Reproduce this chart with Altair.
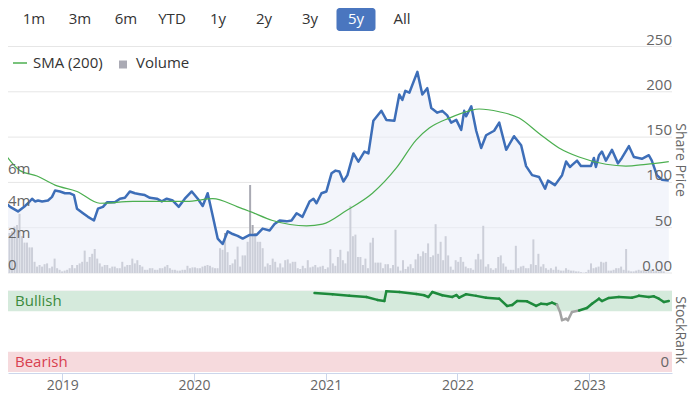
import altair as alt
import pandas as pd

W, H = 664, 365
X_DOMAIN = [2018.626, 2023.591]
FONT = "Open Sans"

# ---------------- data ----------------
buttons = ["1m", "3m", "6m", "YTD", "1y", "2y", "3y", "5y", "All"]
active_button = "5y"

legend_labels = ["SMA (200)", "Volume"]
axis_titles = ["Share Price", "StockRank"]

# share price (decimal year, price)
price_t = [2018.597, 2018.642, 2018.701, 2018.754, 2018.776, 2018.806, 2018.828, 2018.851, 2018.881, 2018.925,
           2018.955, 2018.978, 2019.015, 2019.052, 2019.090, 2019.119, 2019.142, 2019.187, 2019.224, 2019.269,
           2019.299, 2019.336, 2019.366, 2019.425, 2019.463, 2019.500, 2019.537, 2019.575, 2019.612, 2019.649,
           2019.687, 2019.739, 2019.776, 2019.813, 2019.858, 2019.903, 2019.948, 2020.000, 2020.045, 2020.082,
           2020.119, 2020.157, 2020.194, 2020.231, 2020.269, 2020.306, 2020.343, 2020.381, 2020.433, 2020.485,
           2020.530, 2020.582, 2020.619, 2020.657, 2020.709, 2020.746, 2020.784, 2020.828, 2020.881, 2020.910,
           2020.933, 2020.970, 2021.007, 2021.045, 2021.075, 2021.104, 2021.134, 2021.164, 2021.209, 2021.246,
           2021.291, 2021.321, 2021.358, 2021.418, 2021.455, 2021.515, 2021.552, 2021.575, 2021.597, 2021.627,
           2021.687, 2021.724, 2021.761, 2021.791, 2021.836, 2021.873, 2021.910, 2021.940, 2021.978, 2022.015,
           2022.037, 2022.052, 2022.090, 2022.127, 2022.164, 2022.201, 2022.224, 2022.261, 2022.299, 2022.351,
           2022.410, 2022.463, 2022.500, 2022.545, 2022.597, 2022.642, 2022.664, 2022.716, 2022.769, 2022.799,
           2022.828, 2022.843, 2022.881, 2022.910, 2022.948, 2022.985, 2023.007, 2023.022, 2023.045, 2023.067,
           2023.097, 2023.142, 2023.187, 2023.216, 2023.269, 2023.306, 2023.366, 2023.418, 2023.440, 2023.478,
           2023.515, 2023.567]
price_v = [79, 73, 68, 74, 77, 82, 79, 80, 79, 80, 84, 91,
           90, 88, 88, 86, 71, 66, 62, 58, 71, 73, 78, 78,
           82, 83, 90, 88, 87, 86, 83, 82, 79, 82, 80, 73,
           82, 90, 82, 74, 88, 63, 38, 32, 46, 43, 41, 38,
           42, 42, 49, 47, 54, 58, 57, 58, 66, 62, 79, 82,
           77, 88, 90, 110, 113, 112, 101, 108, 132, 123, 134, 132,
           168, 179, 169, 168, 197, 191, 201, 199, 222, 197, 204, 182,
           177, 179, 174, 166, 169, 158, 179, 173, 184, 157, 138, 152,
           154, 157, 166, 136, 151, 141, 118, 108, 106, 93, 102, 97,
           108, 123, 117, 119, 124, 118, 118, 118, 127, 117, 130, 134,
           124, 136, 121, 127, 140, 128, 126, 130, 124, 108, 103, 102]

# 200-day simple moving average
sma_t = [2018.590, 2018.716, 2018.843, 2018.978, 2019.142, 2019.313, 2019.560, 2019.813, 2019.963, 2020.157,
         2020.343, 2020.433, 2020.604, 2020.858, 2020.978, 2021.157, 2021.351, 2021.530, 2021.679, 2021.776,
         2021.925, 2022.075, 2022.149, 2022.299, 2022.448, 2022.597, 2022.746, 2022.896, 2023.097, 2023.246,
         2023.396, 2023.567]
sma_v = [134, 113, 107, 97, 90, 77, 79, 79, 79, 82,
         73, 68, 58, 52, 54, 69, 88, 116, 147, 160,
         171, 179, 181, 178, 171, 154, 138, 128, 120, 118,
         120, 123]

# weekly volume, millions of shares
vol_start = 2018.5993
vol_step = 0.01903
vol_m = [2.5, 2.6, 2.9, 3.0, 3.7, 2.3, 1.9, 1.9, 1.6, 1.6,
         0.7, 0.4, 0.5, 0.4, 0.55, 0.6, 0.3, 0.4, 0.9, 0.3,
         0.2, 0.1, 0.15, 0.2, 0.3, 0.5, 0.3, 0.5, 0.6, 0.7,
         1.4, 0.7, 1.0, 1.2, 1.5, 0.9, 0.6, 0.4, 0.5, 0.5,
         0.3, 0.4, 0.4, 0.3, 0.3, 0.7, 0.4, 0.5, 0.5, 0.9,
         0.6, 0.8, 0.5, 0.4, 0.2, 0.2, 0.3, 0.3, 0.2, 0.2,
         0.3, 0.3, 0.4, 0.5, 0.3, 0.2, 0.2, 0.15, 0.15, 0.2,
         0.2, 0.45, 0.3, 0.35, 0.35, 0.3, 0.3, 0.4, 0.45, 0.5,
         0.45, 0.35, 0.3, 0.3, 1.55, 1.45, 2.5, 1.3, 0.5, 0.6,
         0.85, 1.65, 0.4, 1.1, 1.1, 1.95, 5.5, 3.0, 2.5, 1.95,
         1.95, 1.55, 0.4, 0.6, 0.5, 0.9, 0.7, 0.35, 0.6, 0.35,
         0.8, 0.85, 0.6, 0.7, 0.7, 0.3, 0.25, 0.45, 0.3, 0.8,
         0.35, 0.4, 0.5, 0.35, 0.4, 0.45, 0.25, 0.35, 1.5, 0.6,
         0.45, 1.0, 1.45, 0.8, 0.6, 1.35, 4.2, 2.3, 2.4, 1.0,
         1.0, 0.5, 0.9, 0.3, 1.9, 2.2, 0.65, 0.65, 0.65, 0.3,
         0.55, 0.55, 0.3, 0.5, 2.7, 0.4, 0.15, 0.8, 0.25, 0.4,
         0.55, 0.3, 0.85, 1.2, 1.05, 1.35, 1.25, 1.85, 1.0, 1.1,
         3.05, 1.2, 1.95, 0.8, 2.3, 1.1, 0.4, 0.2, 0.8, 0.7,
         1.0, 0.7, 0.4, 0.3, 0.3, 0.2, 0.85, 1.2, 0.85, 2.95,
         0.4, 0.55, 0.3, 0.2, 0.3, 1.0, 1.1, 0.6, 0.4, 0.2,
         0.2, 0.2, 1.7, 0.3, 0.4, 0.45, 0.3, 0.3, 0.55, 2.1,
         0.5, 1.2, 0.4, 0.55, 0.3, 0.2, 0.3, 0.2, 0.4, 0.2,
         0.15, 0.15, 0.3, 0.2, 0.15, 0.15, 0.1, 0.1, 0.05, 0.02,
         0.05, 0.2, 0.6, 0.3, 0.35, 0.4, 0.7, 0.65, 0.7, 0.15,
         0.15, 0.2, 0.3, 0.3, 0.4, 0.2, 1.5, 0.15, 0.1, 0.1,
         0.15, 0.2, 0.15, 0.2, 0.1, 0.15, 0.2, 0.1, 0.15, 0.1,
         0.15, 0.1]

# StockRank (0-100)
rank_t = [2020.918, 2021.052, 2021.179, 2021.306, 2021.388, 2021.440, 2021.455, 2021.552, 2021.679, 2021.739,
          2021.769, 2021.799, 2021.873, 2021.948, 2021.978, 2022.000, 2022.052, 2022.127, 2022.201, 2022.299,
          2022.358, 2022.396, 2022.433, 2022.507, 2022.575, 2022.612, 2022.657, 2022.694, 2022.731, 2022.754,
          2022.769, 2022.799, 2022.813, 2022.843, 2022.896, 2022.955, 2022.993, 2023.045, 2023.067, 2023.119,
          2023.194, 2023.291, 2023.343, 2023.418, 2023.455, 2023.493, 2023.530, 2023.567]
rank_v = [97.5, 96, 94, 92.6, 89, 87.6, 99.6, 98.8, 96.3, 94.7,
          92.6, 98.8, 94.7, 92.6, 95, 91.7, 96, 94, 91.7, 90.5,
          81.5, 82.7, 87.6, 87.3, 81.5, 84.3, 83.6, 85.6, 83, 74,
          64, 65.8, 64, 74, 76, 79, 84.3, 90.5, 87.6, 91.4,
          92.6, 91.7, 94, 92.6, 93.4, 90.5, 86.4, 87.6]
bullish_from = 75

band_label = ["Bullish", "Bearish"]
band_lo = [75, 0]
band_hi = [100, 25]

price_ticks = [0, 50, 100, 150, 200, 250]
price_tick_labels = ["0.00", "50", "100", "150", "200", "250"]
vol_ticks = [0, 2, 4, 6]
vol_tick_labels = ["0", "2m", "4m", "6m"]
year_ticks = [2019, 2020, 2021, 2022, 2023]
rank_ticks = [0]
rank_tick_labels = ["0"]

# ---------------- styles ----------------
BLUE = "#3d6eb8"
GREEN = "#4caf50"
RANK_GREEN = "#1e8a3c"
RANK_GRAY = "#a3a3a3"
GRID = "#e6e6e6"
LABEL = "#666666"
BTN_BLUE = "#4a76bf"
band_fill = ["#d5eadc", "#f6dadd"]
band_text_color = ["#3c8a3c", "#d8404f"]

# ---------------- frames ----------------
price_df = pd.DataFrame({"t": price_t, "v": price_v})
sma_df = pd.DataFrame({"t": sma_t, "v": sma_v})
vol_df = pd.DataFrame({"t": [vol_start + i * vol_step for i in range(len(vol_m))], "v": vol_m})

seg_rows = []
for i in range(len(rank_t) - 1):
    z = "neutral" if (rank_v[i] < bullish_from or rank_v[i + 1] < bullish_from) else "bull"
    seg_rows.append({"t": rank_t[i], "v": rank_v[i], "seg": i, "z": z})
    seg_rows.append({"t": rank_t[i + 1], "v": rank_v[i + 1], "seg": i, "z": z})
seg_df = pd.DataFrame(seg_rows)

band_df = pd.DataFrame({"lo": band_lo, "hi": band_hi, "fill": band_fill,
                        "label": band_label, "tc": band_text_color})
btn_df = pd.DataFrame({"b": buttons,
                       "fill": [BTN_BLUE if b == active_button else "transparent" for b in buttons],
                       "tc": ["#ffffff" if b == active_button else "#333333" for b in buttons]})

# ---------------- scales ----------------
xs = alt.Scale(domain=X_DOMAIN, range=[0, W], nice=False, zero=False)
ps = alt.Scale(domain=[0, 250], range=[265, 38.5], nice=False)
vs = alt.Scale(domain=[0, 14], range=[265, 41], nice=False)
rs = alt.Scale(domain=[0, 100], range=[364, 283], nice=False)
bx = alt.Scale(type="band", domain=buttons, range=[6.5, 413.5], paddingInner=0.152, paddingOuter=0)


def XT():
    return alt.X("t:Q", scale=xs, axis=None)


grid = alt.Chart(pd.DataFrame({"v": price_ticks})).mark_rule(color=GRID, strokeWidth=1).encode(
    y=alt.Y("v:Q", scale=ps, axis=None), x=alt.value(0), x2=alt.value(W))

rank_grid = alt.Chart(pd.DataFrame({"v": [100]})).mark_rule(color=GRID, strokeWidth=1).encode(
    y=alt.Y("v:Q", scale=rs, axis=None), x=alt.value(0), x2=alt.value(W))

x_axis = alt.Axis(values=year_ticks, format="d", labelFont=FONT, labelFontSize=14, labelColor=LABEL,
                  tickColor="#ccd6eb", tickSize=8, domainColor="#ccd6eb", grid=False, title=None,
                  labelPadding=-3, labelFlush=False)

vol = alt.Chart(vol_df).mark_bar(size=2, color="#a9aab3", clip=True).encode(
    x=alt.X("t:Q", scale=xs, axis=x_axis), y=alt.Y("v:Q", scale=vs, axis=None))

area = alt.Chart(price_df).mark_area(color="#e9edf7", opacity=0.55, clip=True).encode(
    x=XT(), y=alt.Y("v:Q", scale=ps, axis=None))

price_line = alt.Chart(price_df).mark_line(color=BLUE, strokeWidth=2.5, strokeJoin="round", clip=True).encode(
    x=XT(), y=alt.Y("v:Q", scale=ps, axis=None))

sma_line = alt.Chart(sma_df).mark_line(color=GREEN, strokeWidth=1.2, interpolate="monotone", clip=True).encode(
    x=XT(), y=alt.Y("v:Q", scale=ps, axis=None))

bands = alt.Chart(band_df).mark_rect().encode(
    y=alt.Y("lo:Q", scale=rs, axis=None), y2="hi:Q", x=alt.value(0), x2=alt.value(W),
    color=alt.Color("fill:N", scale=None))

band_text = alt.Chart(band_df).transform_calculate(mid="(datum.lo + datum.hi) / 2").mark_text(
    align="left", baseline="middle", font=FONT, fontSize=15).encode(
    y=alt.Y("mid:Q", scale=rs, axis=None), x=alt.value(7), text="label:N",
    color=alt.Color("tc:N", scale=None))

rank_line = alt.Chart(seg_df).mark_line(strokeWidth=2.5, strokeCap="round", strokeJoin="round", clip=True).encode(
    x=XT(), y=alt.Y("v:Q", scale=rs, axis=None), detail="seg:N",
    color=alt.Color("z:N", scale=alt.Scale(domain=["bull", "neutral"], range=[RANK_GREEN, RANK_GRAY]), legend=None))

price_labels = alt.Chart(pd.DataFrame({"v": price_ticks, "label": price_tick_labels})).mark_text(
    align="right", baseline="middle", dy=-7, font=FONT, fontSize=15, color=LABEL).encode(
    y=alt.Y("v:Q", scale=ps, axis=None), x=alt.value(W), text="label:N")

vol_labels = alt.Chart(pd.DataFrame({"v": vol_ticks, "label": vol_tick_labels})).mark_text(
    align="left", baseline="middle", dy=-8, font=FONT, fontSize=15, color=LABEL).encode(
    y=alt.Y("v:Q", scale=vs, axis=None), x=alt.value(0), text="label:N")

rank_labels = alt.Chart(pd.DataFrame({"v": rank_ticks, "label": rank_tick_labels})).mark_text(
    align="right", baseline="middle", dy=-10, font=FONT, fontSize=15, color=LABEL).encode(
    y=alt.Y("v:Q", scale=rs, axis=None), x=alt.value(W - 3), text="label:N")

title_price = alt.Chart(pd.DataFrame({"label": [axis_titles[0]]})).mark_text(
    angle=90, align="center", baseline="middle", font=FONT, fontSize=14, color=LABEL).encode(
    x=alt.value(672), y=alt.value(152), text="label:N")

title_rank = alt.Chart(pd.DataFrame({"label": [axis_titles[1]]})).mark_text(
    angle=90, align="center", baseline="middle", font=FONT, fontSize=14, color=LABEL).encode(
    x=alt.value(672), y=alt.value(322), text="label:N")

leg_line = alt.Chart(pd.DataFrame({"a": [0]})).mark_rule(color=GREEN, strokeWidth=1.5).encode(
    x=alt.value(5), x2=alt.value(19), y=alt.value(55))
leg_text1 = alt.Chart(pd.DataFrame({"label": [legend_labels[0]]})).mark_text(
    align="left", baseline="middle", font=FONT, fontSize=15, color="#333333").encode(
    x=alt.value(25), y=alt.value(55), text="label:N")
leg_sq = alt.Chart(pd.DataFrame({"a": [0]})).mark_square(size=64, color="#aaaab4", opacity=1).encode(
    x=alt.value(115), y=alt.value(56.5))
leg_text2 = alt.Chart(pd.DataFrame({"label": [legend_labels[1]]})).mark_text(
    align="left", baseline="middle", font=FONT, fontSize=15, color="#333333").encode(
    x=alt.value(128), y=alt.value(55), text="label:N")

btn_rect = alt.Chart(btn_df).mark_rect(cornerRadius=3).encode(
    x=alt.X("b:N", scale=bx, axis=None), y=alt.value(0), y2=alt.value(23),
    color=alt.Color("fill:N", scale=None))
btn_text = alt.Chart(btn_df).mark_text(baseline="middle", align="center", font=FONT, fontSize=15).encode(
    x=alt.X("b:N", scale=bx, axis=None), y=alt.value(10.5), text="b:N",
    color=alt.Color("tc:N", scale=None))

chart = alt.layer(
    grid, rank_grid, vol, area, price_line, sma_line, bands, band_text, rank_line,
    price_labels, vol_labels, rank_labels, title_price, title_rank,
    leg_line, leg_text1, leg_sq, leg_text2, btn_rect, btn_text
).resolve_scale(
    x="independent", y="independent", color="independent"
).properties(
    width=W, height=H,
    padding={"left": 0, "top": 0, "right": 18, "bottom": 22},
    autosize=alt.AutoSizeParams(type="none"),
).configure_view(stroke=None)

chart.save("out.html", embed_options={"renderer": "svg", "actions": False})
